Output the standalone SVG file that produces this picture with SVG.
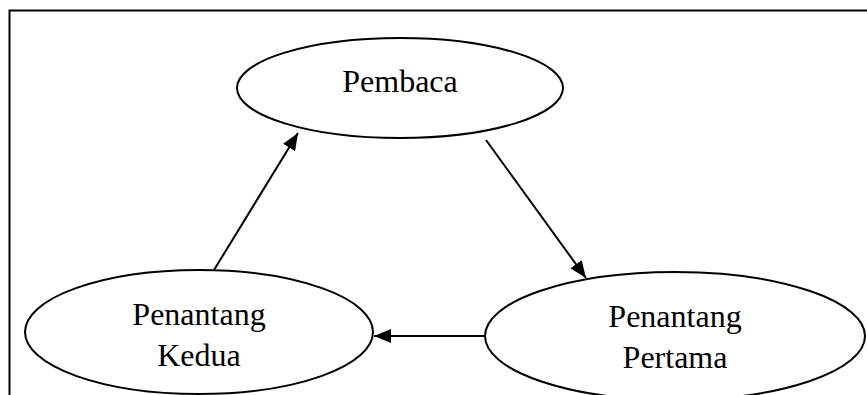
<svg xmlns="http://www.w3.org/2000/svg" width="867" height="395" viewBox="0 0 867 395">
<style>
.node{fill:#fff;stroke:#000;stroke-width:2}
.lbl{font-family:"Liberation Serif","Times New Roman",serif;font-size:32px;fill:#000;text-anchor:middle}
.edge{stroke:#000;stroke-width:2;fill:none;marker-end:url(#ah)}
</style>
<defs>
<marker id="ah" markerUnits="userSpaceOnUse" markerWidth="20" markerHeight="16" refX="17" refY="7" orient="auto">
<path d="M0,0 L17,7 L0,14 Z" fill="#000"/>
</marker>
</defs>
<rect x="9.5" y="10.5" width="880" height="400" fill="none" stroke="#000" stroke-width="2"/>
<g id="node-pembaca">
<ellipse class="node" cx="400" cy="88" rx="163" ry="50"/>
<text class="lbl" x="400" y="92">Pembaca</text>
</g>
<g id="node-kedua">
<ellipse class="node" cx="199" cy="332" rx="174" ry="62"/>
<text class="lbl" x="199" y="325">Penantang</text>
<text class="lbl" x="199" y="366">Kedua</text>
</g>
<g id="node-pertama">
<ellipse class="node" cx="675" cy="336" rx="190" ry="64"/>
<text class="lbl" x="675" y="327">Penantang</text>
<text class="lbl" x="675" y="368">Pertama</text>
</g>
<g id="connectors">
<line class="edge" x1="486" y1="140" x2="586" y2="278"/>
<line class="edge" x1="214" y1="270" x2="298" y2="133"/>
<line class="edge" x1="485" y1="336" x2="374" y2="336"/>
</g>
</svg>
